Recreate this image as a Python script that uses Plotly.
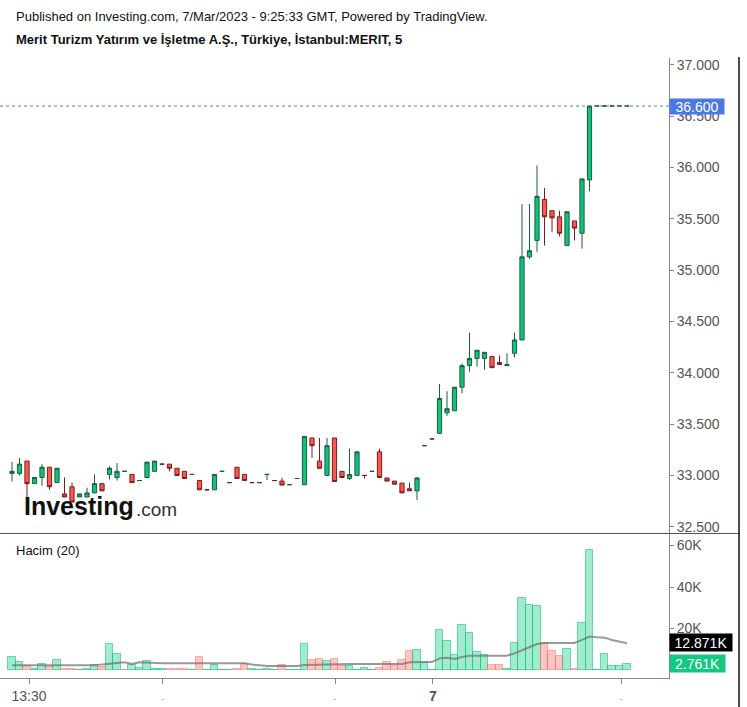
import plotly.graph_objects as go

# ---------------- data ----------------
idx = list(range(83))
opens = [33.02, 33.02, 33.14, 32.92, 32.98, 33.08, 32.93, 32.82, 32.89, 32.79,
         32.79, 32.83, 32.92, 33.01, 32.98, 33.04, 33.01, 32.95, 32.98, 33.04,
         33.11, 33.11, 33.07, 33.04, 33.01, 32.95, 32.86, 32.86, 33.04, 32.93,
         33.08, 33.01, 32.93, 32.93, 33.01, 32.95, 32.945, 32.91, 32.97, 32.91,
         33.365, 33.14, 33.00, 33.365, 33.04, 32.97, 33.00, 33.00, 33.04, 33.23,
         32.975, 32.945, 32.925, 32.87, 32.85, 33.29, 33.355, 33.41, 33.61, 33.63,
         33.86, 34.07, 34.14, 34.14, 34.16, 34.10, 34.07, 34.19, 34.32, 35.13,
         35.29, 35.69, 35.58, 35.52, 35.24, 35.48, 35.36, 35.88, 36.60, 36.60,
         36.60, 36.60, 36.60]
highs = [33.13, 33.17, 33.14, 32.98, 33.11, 33.08, 33.07, 32.98, 32.93, 32.82,
         32.88, 33.01, 32.92, 33.09, 33.12, 33.04, 33.01, 32.95, 33.13, 33.14,
         33.11, 33.11, 33.07, 33.04, 33.01, 32.95, 32.86, 33.01, 33.04, 32.93,
         33.08, 33.01, 32.93, 32.93, 33.01, 32.95, 32.975, 32.91, 32.97, 33.38,
         33.365, 33.365, 33.365, 33.365, 33.04, 33.26, 33.23, 33.00, 33.04, 33.26,
         32.975, 32.945, 32.925, 32.93, 32.985, 33.29, 33.355, 33.89, 33.82, 33.86,
         34.09, 34.39, 34.22, 34.20, 34.16, 34.17, 34.19, 34.39, 35.645, 35.645,
         36.02, 35.80, 35.58, 35.58, 35.57, 35.48, 35.89, 36.60, 36.60, 36.60,
         36.60, 36.60, 36.60]
lows = [32.94, 33.00, 32.78, 32.92, 32.90, 32.86, 32.93, 32.79, 32.74, 32.79,
        32.79, 32.83, 32.85, 32.96, 32.95, 33.04, 32.93, 32.95, 32.98, 33.04,
        33.11, 33.04, 33.00, 32.97, 33.01, 32.86, 32.86, 32.86, 33.04, 32.93,
        32.97, 32.95, 32.93, 32.93, 32.955, 32.95, 32.906, 32.91, 32.97, 32.91,
        33.17, 33.07, 33.00, 32.94, 32.98, 32.955, 33.00, 32.97, 33.04, 32.98,
        32.945, 32.915, 32.83, 32.85, 32.76, 33.29, 33.355, 33.41, 33.58, 33.63,
        33.80, 34.01, 34.06, 34.03, 34.05, 34.08, 34.07, 34.15, 34.32, 35.11,
        35.18, 35.24, 35.37, 35.33, 35.24, 35.29, 35.21, 35.77, 36.60, 36.60,
        36.60, 36.60, 36.60]
closes = [33.04, 33.11, 32.92, 32.98, 33.08, 32.89, 33.07, 32.79, 32.74, 32.82,
          32.83, 32.92, 32.85, 33.07, 33.04, 33.04, 32.93, 32.95, 33.13, 33.14,
          33.11, 33.07, 33.00, 32.97, 33.01, 32.86, 32.86, 33.01, 33.04, 32.93,
          32.97, 32.95, 32.93, 32.93, 33.01, 32.95, 32.906, 32.91, 32.97, 33.38,
          33.29, 33.07, 33.29, 32.94, 32.98, 33.01, 33.23, 33.00, 33.04, 32.98,
          32.945, 32.915, 32.83, 32.85, 32.975, 33.29, 33.355, 33.75, 33.65, 33.86,
          34.07, 34.14, 34.22, 34.20, 34.05, 34.08, 34.08, 34.32, 35.13, 35.19,
          35.72, 35.52, 35.51, 35.36, 35.57, 35.41, 35.89, 36.60, 36.60, 36.60,
          36.60, 36.60, 36.60]
volumes = [6100, 3700, 1900, 600, 2900, 1300, 4800, 600, 600, 100,
           600, 2300, 1300, 12500, 7700, 200, 2300, 1100, 4200, 600,
           600, 600, 600, 600, 100, 6100, 100, 2400, 100, 100,
           600, 2900, 600, 100, 600, 100, 2300, 100, 100, 12500,
           4800, 5500, 4300, 5400, 1900, 1900, 100, 1100, 100, 1100,
           3700, 1900, 4800, 9200, 9600, 3500, 100, 19300, 14000, 7100,
           21500, 18000, 8500, 7100, 2300, 2300, 500, 13200, 34900, 31200,
           30700, 13200, 9000, 6600, 10100, 600, 22800, 57700, 100, 7700,
           1800, 1800, 2761]
vol_dir = list("ggrggrgrrg" "ggrggrgggg" "grrrgrgggg" "rrggggrggg"
               "rrgrrggggr" "rrrrgggggg" "ggggrrgggg"
               "grrrgrgggg" "ggg")
vol_ma = [2300, 2300, 2300, 2300, 2300, 2300, 2300, 2300, 2300, 2300,
          2300, 2300, 2700, 3200, 3400, 3700, 2900, 3700, 3500, 3200,
          3200, 3200, 3200, 3200, 3200, 3200, 3200, 3200, 3200, 3200,
          3200, 3200, 2600, 2100, 1900, 1900, 1900, 1900, 1900, 2400,
          2500, 2700, 2900, 2900, 2900, 2900, 2900, 2900, 2900, 2900,
          2900, 2900, 2900, 3700, 3900, 3900, 3900, 5600, 5900, 5300,
          6300, 6900, 6900, 6900, 6900, 6900, 6900, 8000, 9600, 11200,
          12500, 13000, 13000, 13000, 13000, 13000, 14500, 16100, 15800, 15600,
          14500, 13600, 12871]
price_ticks = [32.5, 33.0, 33.5, 34.0, 34.5, 35.0, 35.5, 36.0, 36.5, 37.0]
vol_ticks = [20000, 40000, 60000]
vol_tick_text = ["20K", "40K", "60K"]
time_tick_pos = [2.27, 20.13, 43.07, 56.13, 81.2]
time_tick_text = ["13:30", "<span style='font-size:7px'>-</span>",
                  "<span style='font-size:7px'>-</span>", "<b>7</b>",
                  "<span style='font-size:7px'>-</span>"]
last_price = 36.60
last_ma = 12871
last_vol = 2761

# ---------------- layout helpers (pixel -> paper) ----------------
L, R, T, B = 0, 669, 58, 678
def px(x):
    return (x - L) / (R - L)
def py(y):
    return (B - y) / (B - T)

FONT = "Liberation Sans, Arial, sans-serif"

fig = go.Figure()

vcol = ["rgba(0,200,120,0.36)" if d == "g" else "rgba(255,95,85,0.36)" for d in vol_dir]
vline = ["rgba(0,195,115,0.55)" if d == "g" else "rgba(255,95,85,0.45)" for d in vol_dir]
fig.add_trace(go.Bar(x=idx, y=volumes, yaxis="y2", width=0.96,
                     marker=dict(color=vcol, line=dict(color=vline, width=1)),
                     showlegend=False, hoverinfo="skip"))
fig.add_trace(go.Scatter(x=idx, y=vol_ma, yaxis="y2", mode="lines",
                         line=dict(color="rgba(110,110,110,0.7)", width=2),
                         showlegend=False, hoverinfo="skip"))

fig.add_trace(go.Candlestick(
    x=idx, open=opens, high=highs, low=lows, close=closes,
    increasing=dict(fillcolor="#0cc47c", line=dict(color="#1d5c3b", width=1)),
    decreasing=dict(fillcolor="#f8584f", line=dict(color="#7a1c1c", width=1)),
    whiskerwidth=0, showlegend=False, hoverinfo="skip"))

fig.update_layout(
    width=747, height=707,
    margin=dict(l=0, r=747 - R, t=T, b=707 - B),
    paper_bgcolor="white", plot_bgcolor="white",
    boxgap=0.2, bargap=0,
    font=dict(family=FONT, size=14, color="#555"),
    xaxis=dict(range=[-1.6, 87.6], anchor="y2", showgrid=False, zeroline=False,
               showline=True, linecolor="#888", linewidth=1,
               ticks="outside", ticklen=5, tickcolor="#888",
               tickvals=time_tick_pos, ticktext=time_tick_text,
               tickfont=dict(size=14, color="#555"),
               rangeslider=dict(visible=False)),
    yaxis=dict(domain=[py(533), 1], range=[32.439, 37.068], side="right",
               showgrid=False, zeroline=False, showline=True, linecolor="#888",
               ticks="outside", ticklen=4, tickcolor="#888",
               tickvals=price_ticks, tickformat=".3f",
               tickfont=dict(size=14, color="#555")),
    yaxis2=dict(domain=[0, py(534)], range=[-3860, 65550], side="right", anchor="x",
                showgrid=False, zeroline=False, showline=True, linecolor="#888",
                ticks="outside", ticklen=4, tickcolor="#888",
                tickvals=vol_ticks, ticktext=vol_tick_text,
                tickfont=dict(size=14, color="#555")),
)

shapes = [
    dict(type="line", xref="paper", yref="y", x0=0, x1=1, y0=last_price, y1=last_price,
         line=dict(color="#4a78e6", width=1, dash="dot")),
    dict(type="line", xref="paper", yref="paper", x0=0, x1=px(739), y0=py(533.5), y1=py(533.5),
         line=dict(color="#555", width=1)),
    dict(type="line", xref="paper", yref="paper", x0=px(739), x1=px(739), y0=py(57), y1=py(707),
         line=dict(color="#111", width=1.5)),
]
fig.update_layout(shapes=shapes)

ann = [
    dict(text="Published on Investing.com, 7/Mar/2023 - 9:25:33 GMT, Powered by TradingView.",
         x=px(14), y=py(16), xanchor="left", yanchor="middle",
         font=dict(size=13, color="#111")),
    dict(text="<b>Merit Turizm Yatırım ve İşletme A.Ş., Türkiye, İstanbul:MERIT, 5</b>",
         x=px(14), y=py(40), xanchor="left", yanchor="middle",
         font=dict(size=13, color="#111")),
    dict(text="Hacim (20)", x=px(14), y=py(550), xanchor="left", yanchor="middle",
         font=dict(size=13, color="#111")),
    dict(text="<b>Investing</b>", x=px(22), y=py(506), xanchor="left", yanchor="middle",
         font=dict(size=25, color="#111")),
    dict(text=".com", x=px(134), y=py(509), xanchor="left", yanchor="middle",
         font=dict(size=19, color="#333")),
    dict(text="36.600", x=1, y=last_price, xref="paper", yref="y", xanchor="left",
         yanchor="middle", bgcolor="#4a78e6", width=54, height=15, borderpad=0,
         font=dict(size=14, color="white")),
    dict(text="12.871K", x=1, y=py(642.5), xanchor="left", yanchor="middle",
         bgcolor="#000000", width=62, height=17, borderpad=0,
         font=dict(size=14, color="white")),
    dict(text="2.761K", x=1, y=py(663.5), xanchor="left", yanchor="middle",
         bgcolor="#14c882", width=55, height=17, borderpad=0,
         font=dict(size=14, color="white")),
]
for a in ann:
    a.setdefault("xref", "paper")
    a.setdefault("yref", "paper")
    a["showarrow"] = False
fig.update_layout(annotations=ann)

fig.write_html("out.html", config={"displayModeBar": False})
